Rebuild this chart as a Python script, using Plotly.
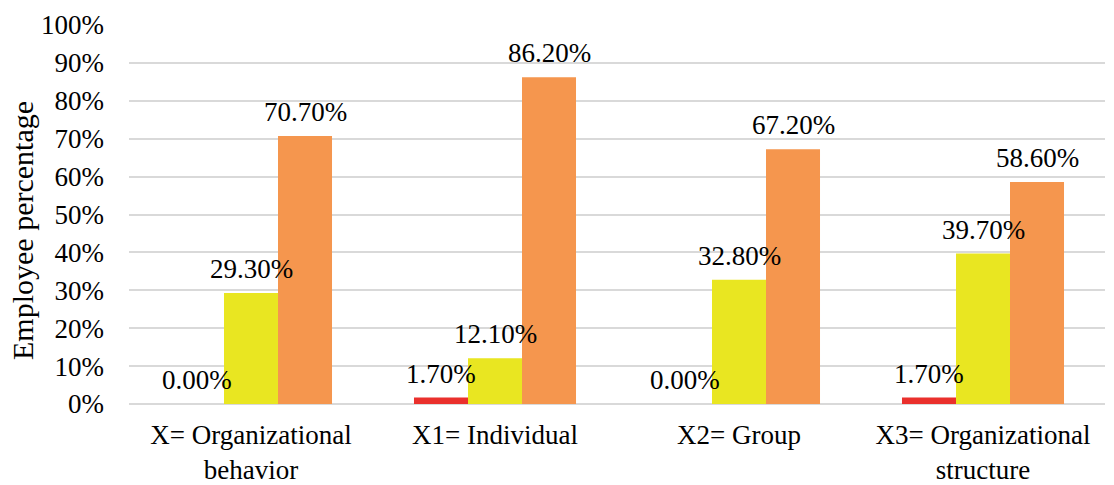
import plotly.graph_objects as go

categories = ["X= Organizational<br>behavior", "X1= Individual", "X2= Group", "X3= Organizational<br>structure"]
series_red = [0.0, 1.7, 0.0, 1.7]
series_yellow = [29.3, 12.1, 32.8, 39.7]
series_orange = [70.7, 86.2, 67.2, 58.6]
y_tick_values = [0, 10, 20, 30, 40, 50, 60, 70, 80, 90, 100]
y_tick_labels = [f"{v}%" for v in y_tick_values]

FONT = "Times New Roman, Liberation Serif, serif"
colors = ["#EA302C", "#E9E621", "#F5964E"]

W, H = 1114, 485
ML, MR, MT, MB = 129, 9, 25, 81
BARGAP = 0.336
plot_w = W - ML - MR
plot_h = H - MT - MB
bar_w = plot_w / len(categories) * (1 - BARGAP) / 3

fig = go.Figure()
all_series = [series_red, series_yellow, series_orange]
for vals, col in zip(all_series, colors):
    fig.add_trace(go.Bar(
        x=categories, y=vals, marker=dict(color=col, line=dict(width=0)),
        showlegend=False, hoverinfo="x+y",
    ))

annotations = []
for i, vals in enumerate(all_series):
    for cat, v in zip(categories, vals):
        annotations.append(dict(
            x=cat, y=v, xref="x", yref="y", text=f"{v:.2f}%",
            showarrow=False, xanchor="center", yanchor="bottom",
            xshift=(i - 1) * bar_w, yshift=7,
            font=dict(family=FONT, size=27, color="#000000"),
        ))

annotations.append(dict(
    text="Employee percentage", xref="paper", yref="paper",
    x=(22 - ML) / plot_w, y=(H - MB - 231) / plot_h, xanchor="center", yanchor="middle",
    textangle=-90, showarrow=False,
    font=dict(family=FONT, size=30, color="#000000"),
))

fig.update_layout(
    width=W, height=H,
    margin=dict(l=ML, r=MR, t=MT, b=MB, autoexpand=False),
    paper_bgcolor="white", plot_bgcolor="white",
    barmode="group", bargap=BARGAP, bargroupgap=0,
    font=dict(family=FONT, size=27, color="#000000"),
    xaxis=dict(showgrid=False, ticks="", showline=False, ticklabelstandoff=12,
               automargin=False,
               tickfont=dict(family=FONT, size=27, color="#000000")),
    yaxis=dict(range=[0, 100], tickvals=y_tick_values, ticktext=y_tick_labels,
               showgrid=True, gridcolor="#D9D9D9", gridwidth=1.5,
               zeroline=True, zerolinecolor="#D9D9D9", zerolinewidth=1.5,
               showline=False, ticks="", ticklabelstandoff=24, automargin=False,
               tickfont=dict(family=FONT, size=27, color="#000000")),
    annotations=annotations,
)

fig.write_html("out.html")
